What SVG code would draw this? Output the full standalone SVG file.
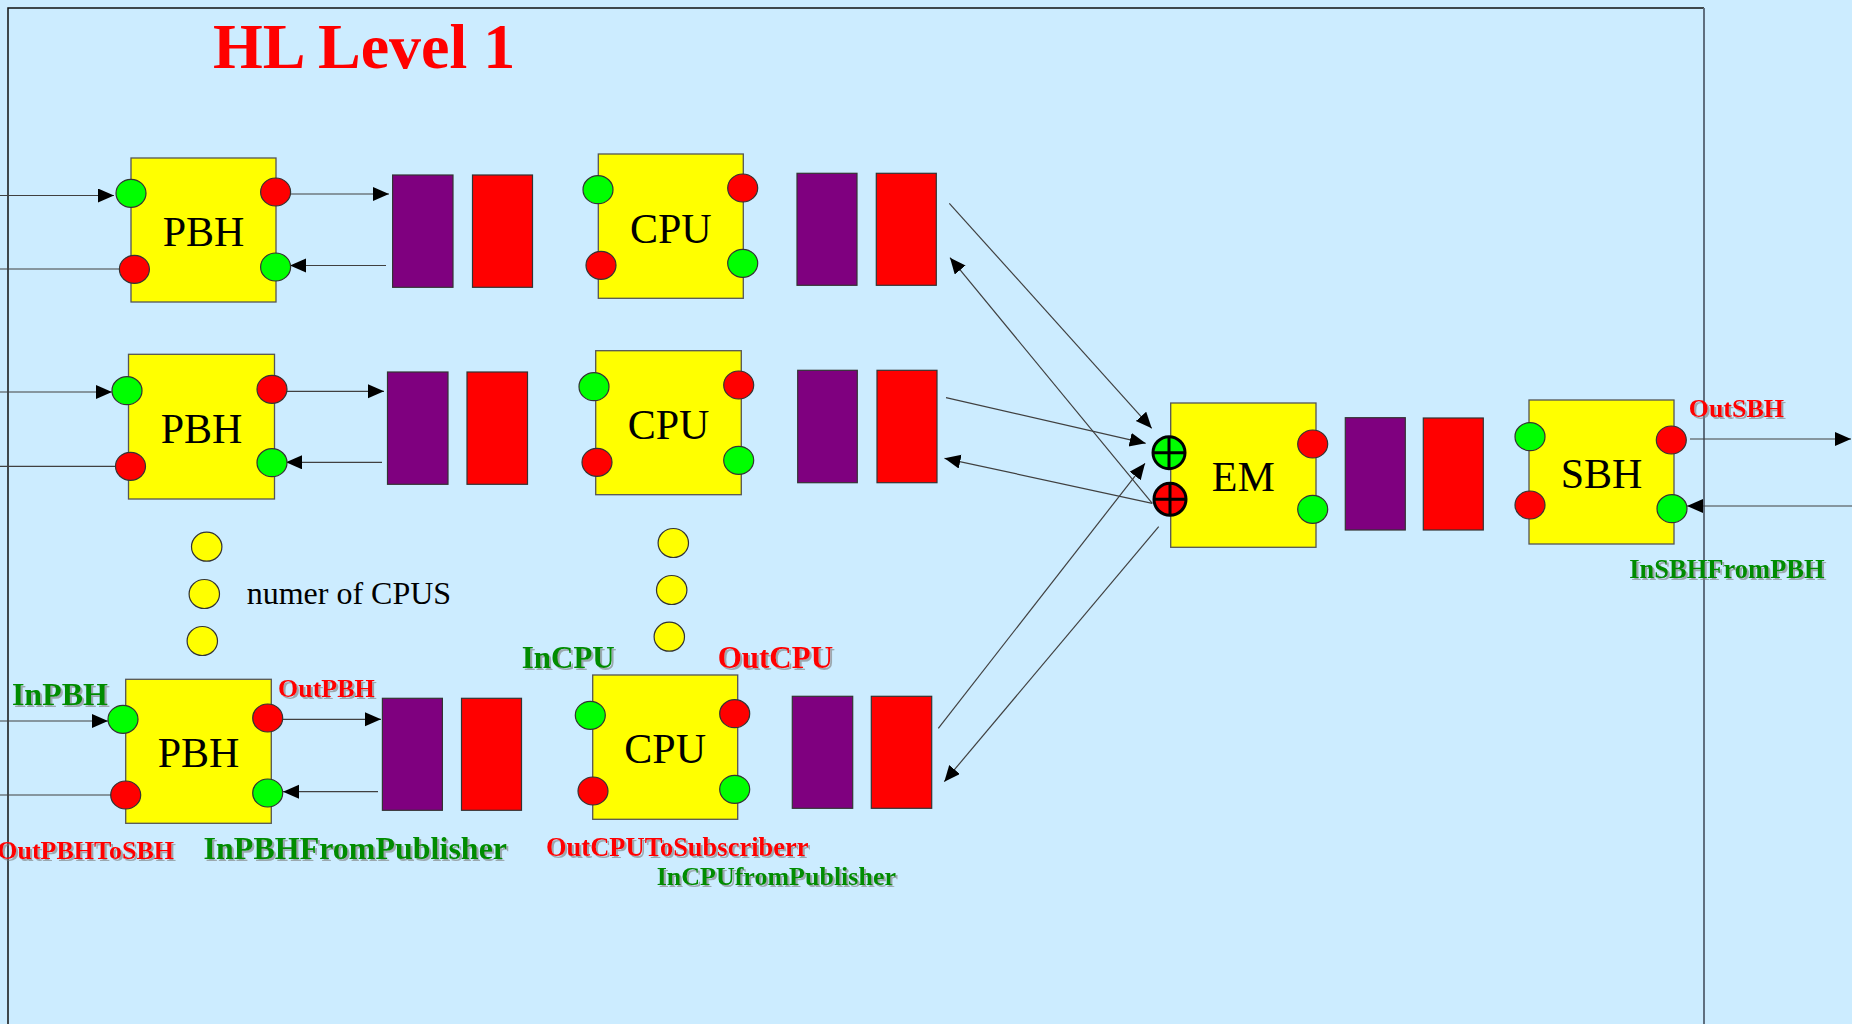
<svg xmlns="http://www.w3.org/2000/svg" width="1852" height="1024" viewBox="0 0 1852 1024">
<defs>
<style>
.box{fill:#FFFF00;stroke:#555;stroke-width:1.3}
.pg{fill:#00FF00;stroke:#333;stroke-width:1.2}
.pr{fill:#FF0000;stroke:#333;stroke-width:1.2}
.qp{fill:#7F007F;stroke:#333;stroke-width:1.2}
.qr{fill:#FF0000;stroke:#333;stroke-width:1.2}
.dot{fill:#FFFF00;stroke:#333;stroke-width:1.2}
.nl{font-family:"Liberation Serif","Times New Roman",serif;font-size:42px;fill:#000;text-anchor:middle}
.lg{font-family:"Liberation Serif","Times New Roman",serif;font-weight:bold;fill:#008C00;filter:url(#sh)}
.lr{font-family:"Liberation Serif","Times New Roman",serif;font-weight:bold;fill:#FF0000;filter:url(#sh)}
.c{stroke:#404040;stroke-width:1.2;fill:none}
.ca{stroke:#404040;stroke-width:1.2;fill:none;marker-end:url(#ah)}
.plus{stroke:#000;stroke-width:3}
</style>
<marker id="ah" markerUnits="userSpaceOnUse" markerWidth="17" markerHeight="15" refX="16" refY="7" orient="auto">
<path d="M0,0 L16,7 L0,14 z" fill="#000"/>
</marker>
<filter id="sh" x="-10%" y="-30%" width="130%" height="160%">
<feDropShadow dx="2" dy="2" stdDeviation="0.6" flood-color="#7a7a7a" flood-opacity="0.6"/>
</filter>
</defs>
<rect width="1852" height="1024" fill="#CCECFF"/>
<g id="frame">
<path d="M8,1030 V8 H1704" fill="none" stroke="#111" stroke-width="1.5"/>
<line x1="1704" y1="8" x2="1704" y2="1030" stroke="#5F6F7F" stroke-width="2"/>
</g>
<text id="title" x="213" y="68" font-family="Liberation Serif,'Times New Roman',serif" font-weight="bold" font-size="64" fill="#FF0000">HL Level 1</text>

<g id="connectors">
<line class="ca" x1="0" y1="195.5" x2="114" y2="195.5"/>
<line class="c" x1="0" y1="269" x2="132" y2="269"/>
<line class="ca" x1="284" y1="194" x2="389" y2="194"/>
<line class="ca" x1="386" y1="265.5" x2="290" y2="265.5"/>
<line class="ca" x1="0" y1="392" x2="112" y2="392"/>
<line class="c" x1="0" y1="466.3" x2="129" y2="466.3"/>
<line class="ca" x1="279" y1="391.3" x2="384" y2="391.3"/>
<line class="ca" x1="382" y1="462.3" x2="286" y2="462.3"/>
<line class="ca" x1="0" y1="721" x2="108" y2="721"/>
<line class="c" x1="0" y1="795" x2="124" y2="795"/>
<line class="ca" x1="277" y1="719.3" x2="381" y2="719.3"/>
<line class="ca" x1="378" y1="791.7" x2="283" y2="791.7"/>
<line class="ca" x1="949.3" y1="203.3" x2="1151.7" y2="428.3"/>
<line class="ca" x1="1152.3" y1="503.3" x2="950" y2="257.7"/>
<line class="ca" x1="946" y1="397.7" x2="1145.7" y2="443.3"/>
<line class="ca" x1="1152.3" y1="503.3" x2="944.5" y2="458.3"/>
<line class="ca" x1="938.3" y1="728.3" x2="1145" y2="463.3"/>
<line class="ca" x1="1158.7" y1="526.7" x2="944.3" y2="781.7"/>
<line class="ca" x1="1690" y1="439" x2="1851" y2="439"/>
<line class="ca" x1="1852" y1="506" x2="1687" y2="506"/>
</g>

<g id="PBH1">
<rect class="box" x="131" y="158" width="145" height="144"/>
<text class="nl" x="203.5" y="246">PBH</text>
<ellipse class="pg" cx="131" cy="193.3" rx="15" ry="14"/>
<ellipse class="pr" cx="134.4" cy="269.3" rx="15" ry="14"/>
<ellipse class="pr" cx="275.6" cy="192" rx="15" ry="14"/>
<ellipse class="pg" cx="275.6" cy="267" rx="15" ry="14"/>
</g>
<g id="Q1a"><rect class="qp" x="392.6" y="175" width="60.4" height="112.3"/><rect class="qr" x="472.5" y="175" width="60" height="112.3"/></g>
<g id="CPU1">
<rect class="box" x="598.3" y="154" width="145" height="144.3"/>
<text class="nl" x="670.8" y="242.7">CPU</text>
<ellipse class="pg" cx="598" cy="189.7" rx="15" ry="14"/>
<ellipse class="pr" cx="601" cy="265.3" rx="15" ry="14"/>
<ellipse class="pr" cx="742.7" cy="188" rx="15" ry="14"/>
<ellipse class="pg" cx="742.7" cy="263.3" rx="15" ry="14"/>
</g>
<g id="Q1b"><rect class="qp" x="797" y="173.3" width="60" height="112"/><rect class="qr" x="876.3" y="173.3" width="60" height="112"/></g>

<g id="PBH2">
<rect class="box" x="128.5" y="354.3" width="146" height="144.7"/>
<text class="nl" x="201.5" y="442.5">PBH</text>
<ellipse class="pg" cx="127" cy="390.7" rx="15" ry="14"/>
<ellipse class="pr" cx="130.5" cy="466.3" rx="15" ry="14"/>
<ellipse class="pr" cx="272" cy="389.3" rx="15" ry="14"/>
<ellipse class="pg" cx="272" cy="462.7" rx="15" ry="14"/>
</g>
<g id="Q2a"><rect class="qp" x="387.5" y="372" width="60.5" height="112.3"/><rect class="qr" x="467" y="372" width="60.5" height="112.3"/></g>
<g id="CPU2">
<rect class="box" x="595.7" y="350.7" width="145.6" height="144"/>
<text class="nl" x="668.5" y="438.7">CPU</text>
<ellipse class="pg" cx="594" cy="386.7" rx="15" ry="14"/>
<ellipse class="pr" cx="597" cy="462.3" rx="15" ry="14"/>
<ellipse class="pr" cx="738.7" cy="385" rx="15" ry="14"/>
<ellipse class="pg" cx="738.7" cy="460.3" rx="15" ry="14"/>
</g>
<g id="Q2b"><rect class="qp" x="797.7" y="370.3" width="59.6" height="112.4"/><rect class="qr" x="877" y="370.3" width="60" height="112.4"/></g>

<g id="dots1">
<ellipse class="dot" cx="206.7" cy="546.7" rx="15.2" ry="14.5"/>
<ellipse class="dot" cx="204.3" cy="594" rx="15.2" ry="14.5"/>
<ellipse class="dot" cx="202.3" cy="641" rx="15.2" ry="14.5"/>
</g>
<text id="numer" x="246.7" y="604" font-family="Liberation Serif,'Times New Roman',serif" font-size="32" fill="#000">numer of CPUS</text>
<g id="dots2">
<ellipse class="dot" cx="673.3" cy="543" rx="15.2" ry="14.5"/>
<ellipse class="dot" cx="671.7" cy="590" rx="15.2" ry="14.5"/>
<ellipse class="dot" cx="669.3" cy="636.7" rx="15.2" ry="14.5"/>
</g>

<g id="PBH3">
<rect class="box" x="125.7" y="679.3" width="145.6" height="144"/>
<text class="nl" x="198.5" y="767.3">PBH</text>
<ellipse class="pg" cx="123" cy="719.3" rx="15" ry="14"/>
<ellipse class="pr" cx="125.7" cy="795" rx="15" ry="14"/>
<ellipse class="pr" cx="267.7" cy="718" rx="15" ry="14"/>
<ellipse class="pg" cx="267.7" cy="793" rx="15" ry="14"/>
</g>
<g id="Q3a"><rect class="qp" x="382.4" y="698.3" width="60" height="112"/><rect class="qr" x="461.5" y="698.3" width="60" height="112"/></g>
<g id="CPU3">
<rect class="box" x="592.7" y="675" width="145" height="144.3"/>
<text class="nl" x="665.2" y="763.2">CPU</text>
<ellipse class="pg" cx="590.3" cy="715.3" rx="15" ry="14"/>
<ellipse class="pr" cx="593" cy="791" rx="15" ry="14"/>
<ellipse class="pr" cx="734.7" cy="713.7" rx="15" ry="14"/>
<ellipse class="pg" cx="734.7" cy="789.3" rx="15" ry="14"/>
</g>
<g id="Q3b"><rect class="qp" x="792.3" y="696.3" width="60.4" height="112"/><rect class="qr" x="871.3" y="696.3" width="60.4" height="112"/></g>

<g id="EM">
<rect class="box" x="1170.7" y="403" width="145.3" height="144.3"/>
<text class="nl" x="1243.3" y="491">EM</text>
<circle cx="1169" cy="452.7" r="16" fill="#00FF00" class="plus"/>
<path class="plus" d="M1153,452.7 H1185 M1169,436.7 V468.7"/>
<circle cx="1170" cy="499.3" r="16" fill="#FF0000" class="plus"/>
<path class="plus" d="M1154,499.3 H1186 M1170,483.3 V515.3"/>
<ellipse class="pr" cx="1312.7" cy="444" rx="15" ry="14"/>
<ellipse class="pg" cx="1312.7" cy="509.3" rx="15" ry="14"/>
</g>
<g id="QEM"><rect class="qp" x="1345.3" y="417.7" width="60" height="112.3"/><rect class="qr" x="1423.3" y="418" width="60" height="112"/></g>
<g id="SBH">
<rect class="box" x="1529" y="400" width="145" height="144"/>
<text class="nl" x="1601.5" y="488">SBH</text>
<ellipse class="pg" cx="1530" cy="436.7" rx="15" ry="14"/>
<ellipse class="pr" cx="1530" cy="505" rx="15" ry="14"/>
<ellipse class="pr" cx="1671.3" cy="440" rx="15" ry="14"/>
<ellipse class="pg" cx="1672" cy="508.7" rx="15" ry="14"/>
</g>

<g id="labels">
<text class="lg" x="11.9" y="705" font-size="32">InPBH</text>
<text class="lr" x="278" y="696.7" font-size="26">OutPBH</text>
<text class="lr" x="174" y="859.3" font-size="26" text-anchor="end">OutPBHToSBH</text>
<text class="lg" x="203.6" y="859.3" font-size="32">InPBHFromPublisher</text>
<text class="lg" x="521.7" y="667.7" font-size="31">InCPU</text>
<text class="lr" x="717.7" y="667.7" font-size="31">OutCPU</text>
<text class="lr" x="546" y="856" font-size="26.5">OutCPUToSubscriberr</text>
<text class="lg" x="656.7" y="885" font-size="26">InCPUfromPublisher</text>
<text class="lr" x="1688.7" y="417.3" font-size="26">OutSBH</text>
<text class="lg" x="1629.3" y="578.3" font-size="26.5">InSBHFromPBH</text>
</g>
</svg>
